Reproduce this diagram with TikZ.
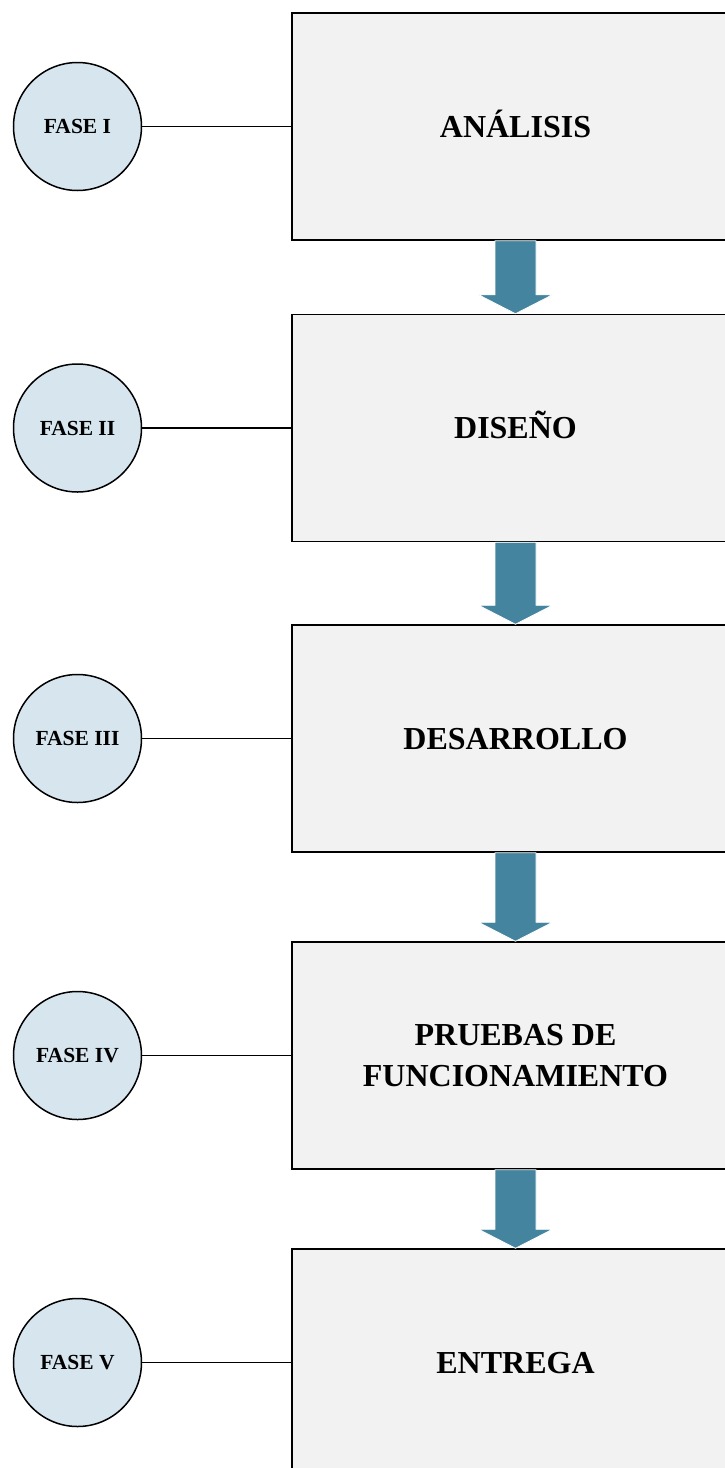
\documentclass[tikz,border=0pt]{standalone}
\usepackage{fontspec}
\setmainfont{Liberation Serif}
\usetikzlibrary{calc}
\definecolor{boxfill}{HTML}{F2F2F2}
\definecolor{phasefill}{HTML}{D6E5EE}
\definecolor{flowblue}{HTML}{44849F}
\tikzset{
  stage/.style={draw=black, line width=1.5pt, fill=boxfill, minimum width=447pt,
    minimum height=227pt, inner sep=0pt, align=center,
    font=\bfseries\fontsize{32}{41}\selectfont},
  oneline/.style={text height=21.2pt, text depth=0pt},
  phase/.style={circle, draw=black, line width=1.5pt, fill=phasefill,
    minimum size=128pt, inner sep=0pt, text height=14.2pt, text depth=0pt,
    font=\bfseries\fontsize{21.5}{24}\selectfont},
  link/.style={draw=black, line width=1.6pt},
  flowarrow/.style={fill=flowblue, draw=white, line width=0.8pt}
}
% block arrow from the bottom of one stage to the top of the next
\newcommand{\stagearrow}[2]{%
  \path[flowarrow]
    ($(#1.south)+(-20.5,0)$) -- ($(#1.south)+(20.5,0)$)
    -- ($(#2.north)+(20.5,-19)$) -- ($(#2.north)+(37,-19)$)
    -- (#2.north)
    -- ($(#2.north)+(-37,-19)$) -- ($(#2.north)+(-20.5,-19)$) -- cycle;}
\begin{document}
\begin{tikzpicture}[x=1pt, y=-1pt]
\useasboundingbox (0,0) rectangle (725,1468);
\clip (0,0) rectangle (725,1468);

\node[stage, oneline] (s1) at (515.5,126.5) {ANÁLISIS};
\node[stage, oneline] (s2) at (515.5,428) {DISEÑO};
\node[stage, oneline] (s3) at (515.5,738.5) {DESARROLLO};
\node[stage] (s4) at (515.5,1055.5) {PRUEBAS DE\\FUNCIONAMIENTO};
\node[stage, oneline] (s5) at (515.5,1362.5) {ENTREGA};

\node[phase] (p1) at (77.5,126.5) {FASE I};
\node[phase] (p2) at (77.5,428) {FASE II};
\node[phase] (p3) at (77.5,738.5) {FASE III};
\node[phase] (p4) at (77.5,1055.5) {FASE IV};
\node[phase] (p5) at (77.5,1362.5) {FASE V};

\foreach \i in {1,...,5} {\draw[link] (p\i.east) -- (s\i.west);}

\stagearrow{s1}{s2}
\stagearrow{s2}{s3}
\stagearrow{s3}{s4}
\stagearrow{s4}{s5}
\end{tikzpicture}
\end{document}
